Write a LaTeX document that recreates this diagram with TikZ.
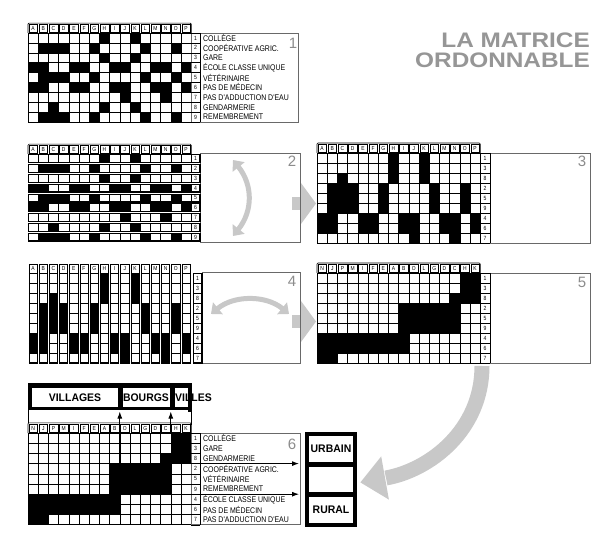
\documentclass[tikz,border=0pt]{standalone}
\usepackage{fontspec}
\setmainfont{Liberation Sans}
\newfontfamily\condfont[FakeStretch=0.85]{Liberation Sans}
\newfontfamily\condbold[FakeStretch=0.95]{Liberation Sans Bold}
\newfontfamily\titlefont[FakeStretch=1.16]{Liberation Sans Bold}
\usetikzlibrary{arrows.meta}
\definecolor{arrowgray}{RGB}{200,200,200}
\definecolor{boxgray}{RGB}{105,105,105}
\definecolor{titlegray}{RGB}{150,150,150}
\definecolor{numgray}{RGB}{140,140,140}
\tikzset{
  gridln/.style={line width=0.45pt, draw=black},
  hdrln/.style={line width=0.4pt, draw=black},
  boxln/.style={line width=0.8pt, draw=boxgray},
  lbl/.style={font=\condfont\fontsize{8.2}{9}\selectfont, anchor=west, inner sep=0pt},
  hdr/.style={font=\condfont\fontsize{5.8}{5}\selectfont, inner sep=0pt},
  numtxt/.style={font=\condfont\fontsize{6}{5}\selectfont, inner sep=0pt},
  pnum/.style={font=\fontsize{15}{15}\selectfont, text=numgray, inner sep=0pt},
  bigtxt/.style={font=\condbold\fontsize{11}{11}\selectfont, inner sep=0pt},
  graydbl/.style={draw=arrowgray, line width=5pt, {Triangle[length=9pt,width=15pt]}-{Triangle[length=9pt,width=15pt]}},
  blackarr/.style={draw=black, line width=1pt, -{Latex[length=7pt,width=5pt]}}
}
% black cells per row (original order)
\def\rowsorig{1/{8,11},2/{2,3,4,7,12,15},3/{8,11},4/{1,2,5,6,9,10,13,14,16},5/{2,3,4,7,12,15},6/{1,2,5,6,9,10,13,14,16},7/{10,14},8/{3,8,11},9/{2,3,4,7,12,15}}
% rows ordered 1,3,8,2,5,9,4,6,7
\def\rowsord{1/{8,11},2/{8,11},3/{3,8,11},4/{2,3,4,7,12,15},5/{2,3,4,7,12,15},6/{2,3,4,7,12,15},7/{1,2,5,6,9,10,13,14,16},8/{1,2,5,6,9,10,13,14,16},9/{10,14}}
% rows and columns ordered
\def\rowsfin{1/{15,16},2/{15,16},3/{14,15,16},4/{9,10,11,12,13,14},5/{9,10,11,12,13,14},6/{9,10,11,12,13,14},7/{1,2,3,4,5,6,7,8,9},8/{1,2,3,4,5,6,7,8,9},9/{1,2}}
% columns (rows ordered) for panel 4
\def\colsord{1/{7,8},2/{4,5,6,7,8},3/{3,4,5,6},4/{4,5,6},5/{7,8},6/{7,8},7/{4,5,6},8/{1,2,3},9/{7,8},10/{7,8,9},11/{1,2,3},12/{4,5,6},13/{7,8},14/{7,8,9},15/{4,5,6},16/{7,8}}
\newcommand\hdrrow[2]{%
  \fill[white] (0,-1) rectangle (16,0);
  \foreach \l [count=\k] in {#2} {%
    \draw[hdrln] (\k-0.93,-0.9) rectangle (\k-0.07,-0.08);
    \node[hdr] (#1h\k) at (\k-0.5,-0.47) {\l};
  }%
  \draw[line width=0.6pt, rounded corners=1pt] (0,0) -- (0,-1) -- (16,-1) -- (16,0);
}
\newcommand\gridbody[1]{%
  \fill[white] (0,0) rectangle (16,9);
  \foreach \rowi/\cellist in #1 {\foreach \coli in \cellist {\fill (\coli-1,\rowi-1) rectangle (\coli,\rowi);}}%
  \foreach \k in {1,...,15} {\draw[gridln] (\k,0) -- (\k,9);}%
  \foreach \k in {1,...,8} {\draw[gridln] (0,\k) -- (16,\k);}%
  \draw[line width=0.7pt] (0,0) rectangle (16,9);
}
\newcommand\numcol[3]{% #1 prefix, #2 width, #3 digits
  \foreach \k in {1,...,8} {\draw[gridln] (16,\k) -- (16+#2,\k);}%
  \draw[gridln] (16+#2,0) -- (16+#2,9);
  \draw[gridln] (16,0) -- (16+#2,0);
  \draw[gridln] (16,9) -- (16+#2,9);
  \foreach \d [count=\k] in {#3} {\node[numtxt] (#1n\k) at (16+#2/2,\k-0.5) {\d};}%
}
\begin{document}
\begin{tikzpicture}[x=1pt,y=-1pt]
\useasboundingbox (0,0) rectangle (603,540);
\fill[white] (0,0) rectangle (603,540);

% title
\node[anchor=base east, font=\titlefont\fontsize{21}{21}\selectfont, text=titlegray, inner sep=0pt] (title1) at (590,48) {LA MATRICE};
\node[anchor=base east, font=\titlefont\fontsize{21}{21}\selectfont, text=titlegray, inner sep=0pt] (title2) at (590,68) {ORDONNABLE};

% ---------- panel 1
\begin{scope}[shift={(28,33)},x=10.2pt,y=-9.9pt]
  \hdrrow{pa}{A,B,C,D,E,F,G,H,I,J,K,L,M,N,O,P}
  \gridbody\rowsorig
  \draw[boxln] (16,0) rectangle (26.47,9);
  \numcol{pa}{0.85}{1,2,3,4,5,6,7,8,9}
  \foreach \t [count=\k] in {COLLÈGE,COOPÉRATIVE AGRIC.,GARE,ÉCOLE CLASSE UNIQUE,VÉTÉRINAIRE,PAS DE MÉDECIN,PAS D'ADDUCTION D'EAU,GENDARMERIE,REMEMBREMENT}
    {\node[lbl] (pal\k) at (17.15,\k-0.5) {\t};}
\end{scope}
\node[pnum] (num1) at (293,43) {1};

% ---------- panel 2
\fill[arrowgray] (292,197) rectangle (301,210);
\fill[arrowgray] (301,183) -- (316,203.5) -- (301,224) -- cycle;
\draw[boxln] (200,153) rectangle (300,242);
\begin{scope}[shift={(28,154)},x=10.2pt,y=-9.8pt]
  \hdrrow{pb}{A,B,C,D,E,F,G,H,I,J,K,L,M,N,O,P}
  \foreach \rowi/\cellist in \rowsorig {
    \fill[white] (0,\rowi-0.92) rectangle (16.85,\rowi-0.12);
    \foreach \coli in \cellist {\fill (\coli-1,\rowi-0.92) rectangle (\coli,\rowi-0.12);}
    \foreach \k in {1,...,16} {\draw[gridln] (\k,\rowi-0.92) -- (\k,\rowi-0.12);}
    \draw[line width=0.6pt] (0,\rowi-0.92) rectangle (16.85,\rowi-0.12);
    \draw[line width=1.4pt] (0,\rowi-0.12) -- (16.85,\rowi-0.12) -- (16.85,\rowi-0.92);
    \node[numtxt] (pbn\rowi) at (16.42,\rowi-0.52) {\rowi};
  }
\end{scope}
\node[pnum] (num2) at (292,161) {2};
\coordinate (a2s) at (233,160);
\coordinate (a2e) at (233,236);
\draw[graydbl] (a2s) .. controls (253,185) and (253,211) .. (a2e);

% ---------- panel 3
\draw[boxln] (490,153) rectangle (590,243);
\begin{scope}[shift={(317,153)},x=10.2pt,y=-10pt]
  \hdrrow{pc}{A,B,C,D,E,F,G,H,I,J,K,L,M,N,O,P}
  \gridbody\rowsord
  \numcol{pc}{0.95}{1,3,8,2,5,9,4,6,7}
\end{scope}
\node[pnum] (num3) at (582,161) {3};

% ---------- panel 4
\fill[arrowgray] (292,315) rectangle (301,328);
\fill[arrowgray] (301,301) -- (316,321.5) -- (301,342) -- cycle;
\draw[boxln] (202,272) rectangle (300,363);
\begin{scope}[shift={(28,273)},x=10.2pt,y=-10pt]
  \foreach \coli/\rowlist in \colsord {
    \fill[white] (\coli-0.92,-0.9) rectangle (\coli-0.1,9);
    \foreach \rowi in \rowlist {\fill (\coli-0.92,\rowi-1) rectangle (\coli-0.1,\rowi);}
    \foreach \k in {0,...,8} {\draw[gridln] (\coli-0.92,\k) -- (\coli-0.1,\k);}
    \draw[line width=0.6pt] (\coli-0.92,-0.9) rectangle (\coli-0.1,9);
    \draw[line width=1.4pt] (\coli-0.92,9) -- (\coli-0.1,9);
  }
  \foreach \l [count=\k] in {A,B,C,D,E,F,G,H,I,J,K,L,M,N,O,P}
    {\node[hdr] (pdh\k) at (\k-0.51,-0.45) {\l};}
  \fill[white] (16.18,0) rectangle (17.06,9);
  \foreach \k in {1,...,8} {\draw[gridln] (16.18,\k) -- (17.06,\k);}
  \draw[line width=0.6pt] (16.18,0) rectangle (17.06,9);
  \draw[line width=1.4pt] (17.06,0) -- (17.06,9) -- (16.18,9);
  \foreach \d [count=\k] in {1,3,8,2,5,9,4,6,7} {\node[numtxt] (pdn\k) at (16.62,\k-0.5) {\d};}
\end{scope}
\node[pnum] (num4) at (292,281) {4};
\coordinate (a4s) at (211,314);
\coordinate (a4e) at (289,314);
\draw[graydbl] (a4s) .. controls (234,295) and (266,295) .. (a4e);

% ---------- panel 5
\draw[boxln] (490,273) rectangle (590,363);
\begin{scope}[shift={(317,273)},x=10.2pt,y=-10pt]
  \hdrrow{pe}{N,J,P,M,I,F,E,A,B,O,L,G,D,C,H,K}
  \gridbody\rowsfin
  \numcol{pe}{0.95}{1,3,8,2,5,9,4,6,7}
\end{scope}
\node[pnum] (num5) at (582,282) {5};

% ---------- big curved arrow 5 -> 6
\coordinate (bs) at (482,366);
\coordinate (be) at (386,478);
\draw[arrowgray, line width=15pt] (bs) .. controls (482,430) and (430,470) .. (be);
\fill[arrowgray] (360.4,482.4) -- (388.9,499.6) -- (381.2,456.4) -- cycle;

% ---------- panel 6
\draw[line width=0.6pt] (28,383) rectangle (191.2,424);
\fill[black] (28,383) rectangle (191.2,409.5);
\fill[black] (187.5,383) rectangle (191.8,412);
\fill[white] (32,387.5) rectangle (117.5,407);
\fill[white] (122.5,387.5) rectangle (169.5,407);
\fill[white] (174.5,387.5) rectangle (187.5,407);
\node[bigtxt] (villages) at (75,397.5) {VILLAGES};
\node[bigtxt] (bourgs) at (146,397.5) {BOURGS};
\node[bigtxt, anchor=west] (villes) at (175,397.5) {VILLES};

\begin{scope}[shift={(28,433)},x=10.2pt,y=-10.2pt]
  \hdrrow{pf}{N,J,P,M,I,F,E,A,B,O,L,G,D,C,H,K}
  \gridbody\rowsfin
  \draw[boxln] (16,0) rectangle (26.67,9);
  \numcol{pf}{0.85}{1,3,8,2,5,9,4,6,7}
  \foreach \t [count=\k] in {COLLÈGE,GARE,GENDARMERIE,COOPÉRATIVE AGRIC.,VÉTÉRINAIRE,REMEMBREMENT,ÉCOLE CLASSE UNIQUE,PAS DE MÉDECIN,PAS D'ADDUCTION D'EAU}
    {\node[lbl] (pfl\k) at (17.15,\k-0.5) {\t};}
\end{scope}
\node[pnum] (num6) at (292,444) {6};

% arrows of panel 6
\coordinate (v1s) at (119.8,463.6);
\coordinate (v1e) at (119.8,411.5);
\coordinate (v2s) at (170.8,433);
\coordinate (v2e) at (170.8,411.5);
\coordinate (h1s) at (170.8,463.6);
\coordinate (h1e) at (299,463.6);
\coordinate (h2s) at (119.8,494.2);
\coordinate (h2e) at (299,494.2);
\draw[blackarr] (v1s) -- (v1e);
\draw[blackarr] (v2s) -- (v2e);
\draw[blackarr] (h1s) -- (h1e);
\draw[blackarr] (h2s) -- (h2e);

% urbain / rural stack
\fill[black] (305,432) rectangle (357,527);
\node[fill=white, minimum width=44pt, minimum height=26pt, inner sep=0pt, font=\condbold\fontsize{11}{11}\selectfont] (urbain) at (331,449) {URBAIN};
\node[fill=white, minimum width=44pt, minimum height=25pt, inner sep=0pt] (milieu) at (331,479.5) {};
\node[fill=white, minimum width=44pt, minimum height=26pt, inner sep=0pt, font=\condbold\fontsize{11}{11}\selectfont] (rural) at (331,510) {RURAL};
\end{tikzpicture}
\end{document}
